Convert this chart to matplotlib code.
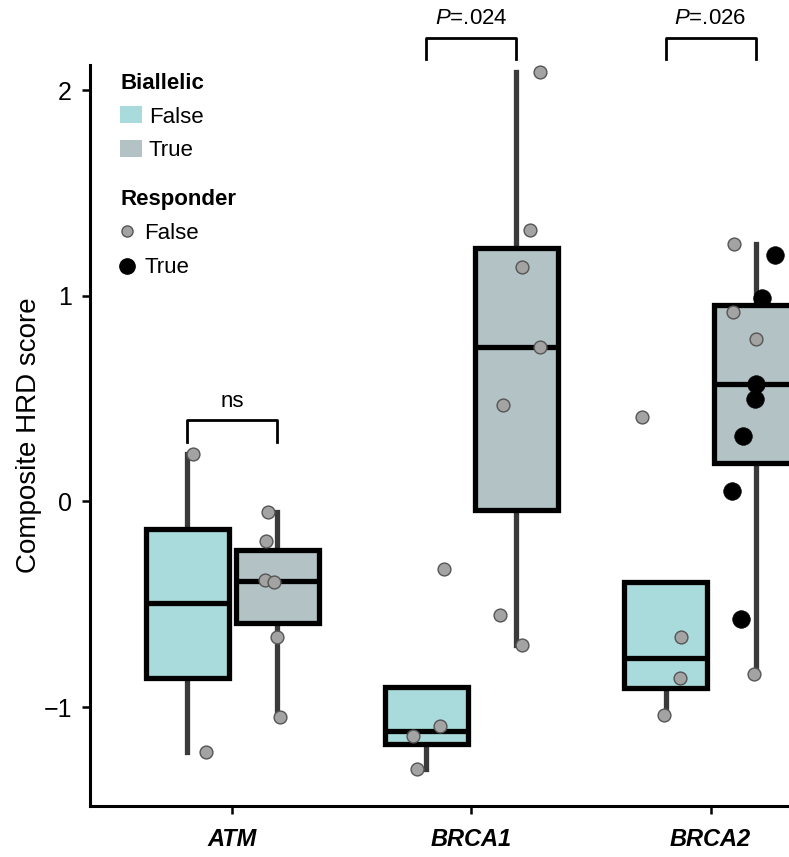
import numpy as np
import matplotlib.pyplot as plt
from matplotlib.patches import Patch
from matplotlib.lines import Line2D

plt.rcParams["font.family"] = ["Liberation Sans", "DejaVu Sans"]
plt.rcParams["mathtext.fontset"] = "custom"
plt.rcParams["mathtext.it"] = "Liberation Sans:italic"
plt.rcParams["mathtext.rm"] = "Liberation Sans"

genes = ["ATM", "BRCA1", "BRCA2"]

# composite HRD score, split by gene and biallelic status
atm_false = [0.23, -1.22]
atm_true = [-0.05, -0.19, -0.38, -0.39, -0.66, -1.05]
brca1_false = [-1.09, -1.14, -1.30, -0.33]
brca1_true = [2.09, 1.32, 1.14, 0.75, 0.47, -0.55, -0.70]
brca2_false = [0.41, -0.66, -0.86, -1.04]
brca2_true = [1.25, 0.92, 0.79, -0.84, 1.20, 0.99, 0.57, 0.50, 0.32, 0.05, -0.57]

# responder flag, same order as above
atm_false_resp = [0, 0]
atm_true_resp = [0, 0, 0, 0, 0, 0]
brca1_false_resp = [0, 0, 0, 0]
brca1_true_resp = [0, 0, 0, 0, 0, 0, 0]
brca2_false_resp = [0, 0, 0, 0]
brca2_true_resp = [0, 0, 0, 0, 1, 1, 1, 1, 1, 1, 1]

p_labels = ["ns", "$P$=.024", "$P$=.026"]
bracket_levels = [0.29, 2.15, 2.15]

false_groups = [atm_false, brca1_false, brca2_false]
true_groups = [atm_true, brca1_true, brca2_true]
false_resp = [atm_false_resp, brca1_false_resp, brca2_false_resp]
true_resp = [atm_true_resp, brca1_true_resp, brca2_true_resp]

col_false = "#aadbdc"
col_true = "#b3c2c5"
whisk_col = "#3a3a3a"
dot_gray = "#a3a3a3"

off = 0.188
bw = 0.347
x = np.arange(len(genes))

fig = plt.figure(figsize=(7.89, 8.57), dpi=100)
ax = fig.add_axes([0.1141, 0.0595, 0.8859, 0.8646])

def draw_boxes(groups, pos, color):
    bp = ax.boxplot(groups, positions=pos, widths=bw, patch_artist=True,
                    showfliers=False, showcaps=False, whis=1.5,
                    manage_ticks=False, zorder=2)
    for b in bp["boxes"]:
        b.set_facecolor(color)
        b.set_edgecolor("black")
        b.set_linewidth(3.8)
    for w in bp["whiskers"]:
        w.set_color(whisk_col)
        w.set_linewidth(3.8)
        w.set_zorder(1)
    for m in bp["medians"]:
        m.set_color("black")
        m.set_linewidth(3.8)

draw_boxes(false_groups, x - off, col_false)
draw_boxes(true_groups, x + off, col_true)

# jittered points on top of the boxes
rng = np.random.default_rng(7)
for pos, groups, resps in [(x - off, false_groups, false_resp), (x + off, true_groups, true_resp)]:
    for p, vals, rs in zip(pos, groups, resps):
        vals = np.array(vals)
        rs = np.array(rs)
        jit = p + rng.uniform(-0.1, 0.1, len(vals))
        nr = rs == 0
        ax.scatter(jit[nr], vals[nr], s=85, color=dot_gray, edgecolor="#555555",
                   linewidth=1.0, zorder=3)
        ax.scatter(jit[~nr], vals[~nr], s=160, color="black", edgecolor="black",
                   linewidth=0.5, zorder=3)

# significance brackets
for xi, lab, lev in zip(x, p_labels, bracket_levels):
    x0, x1 = xi - off, xi + off
    top = lev + 0.105
    ax.plot([x0, x0, x1, x1], [lev, top, top, lev], color="black", lw=2.0,
            clip_on=False, zorder=4)
    ax.text(xi, top + 0.04, lab, ha="center", va="bottom", fontsize=16,
            clip_on=False)

ax.set_xlim(-0.594, 2.328)
ax.set_ylim(-1.481, 2.122)
ax.set_yticks([-1, 0, 1, 2])
ax.set_xticks(x)
ax.set_xticklabels(genes, fontsize=17, fontweight="bold", fontstyle="italic")
ax.tick_params(axis="y", labelsize=18, length=6, width=1.8, pad=7)
ax.tick_params(axis="x", length=6, width=1.8, pad=10)
ax.set_ylabel("Composite HRD score", fontsize=20, labelpad=1)
for s in ["top", "right"]:
    ax.spines[s].set_visible(False)
for s in ["left", "bottom"]:
    ax.spines[s].set_linewidth(2.2)

# legends
h1 = [Patch(facecolor=col_false, edgecolor="none"), Patch(facecolor=col_true, edgecolor="none")]
leg1 = ax.legend(h1, ["False", "True"], title="Biallelic", loc="upper left",
                 bbox_to_anchor=(0.043, 0.989), frameon=False, fontsize=16,
                 title_fontproperties={"weight": "bold", "size": 16},
                 alignment="left", handlelength=1.0, handleheight=0.8,
                 handletextpad=0.3, labelspacing=0.55, borderpad=0,
                 borderaxespad=0)
ax.add_artist(leg1)
h2 = [Line2D([], [], marker="o", ls="none", markersize=8, markerfacecolor=dot_gray,
             markeredgecolor="#555555"),
      Line2D([], [], marker="o", ls="none", markersize=11, markerfacecolor="black",
             markeredgecolor="black")]
ax.legend(h2, ["False", "True"], title="Responder", loc="upper left",
          bbox_to_anchor=(0.043, 0.833), frameon=False, fontsize=16,
          title_fontproperties={"weight": "bold", "size": 16},
          alignment="left", handlelength=0.6, handletextpad=0.5,
          labelspacing=0.6, borderpad=0, borderaxespad=0)

fig.savefig("out.png", dpi=100)
